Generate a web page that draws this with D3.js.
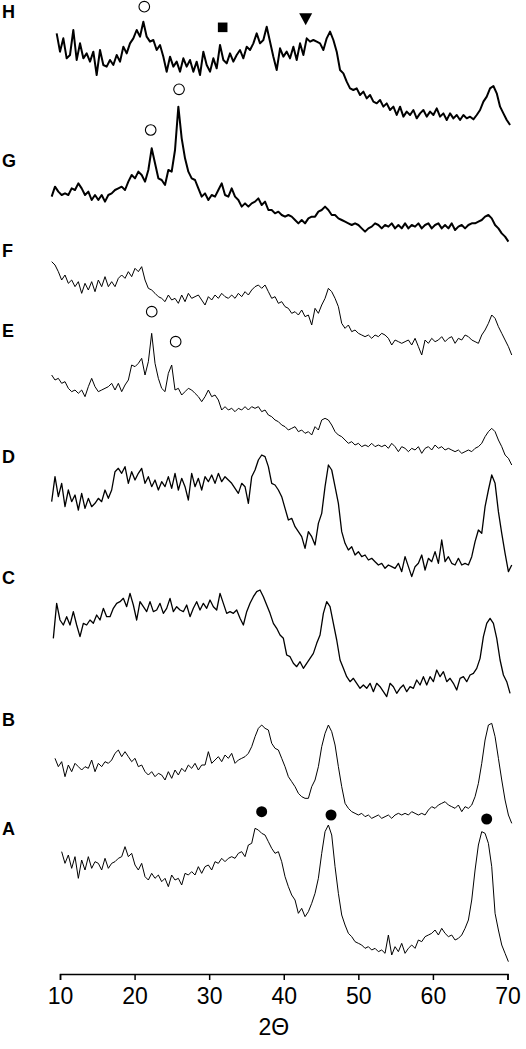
<!DOCTYPE html>
<html>
<head>
<meta charset="utf-8">
<script src="https://cdn.jsdelivr.net/npm/d3@7"></script>
<style>
body { margin: 0; background: #fff; }
</style>
</head>
<body>
<div id="wrapper"></div>
<script>
// sample names, top to bottom
var names = ["H", "G", "F", "E", "D", "C", "B", "A"];
// first 2theta of each scan and the step between points
var starts = [9.553, 8.883, 8.883, 8.883, 8.883, 9.106, 9.330, 10.223];
var step = 0.447;
// vertical offsets of the stacked scans (a.u.)
var offsets = [2525, 2175, 1845, 1525, 1185, 815, 425, 15];
// where the letters sit (a.u.)
var labelPos = [2890, 2442, 2172, 1932, 1554, 1191, 765, 438];
var lineWidths = [2, 2, 1, 1, 1.3, 1.3, 1, 1];

var scanH = [300,245,285,225,235,310,220,270,225,240,215,245,175,250,205,200,220,205,235,215,260,240,270,285,310,290,335,290,275,280,250,265,230,185,230,200,215,185,225,200,220,185,215,175,245,205,185,225,195,265,220,210,240,215,235,250,225,260,250,270,300,270,280,320,275,230,190,255,230,245,225,260,220,270,235,285,275,280,275,270,250,285,305,280,245,190,180,155,135,130,135,115,125,105,115,95,90,100,80,90,70,80,55,80,50,65,55,70,45,60,70,50,65,55,75,50,60,40,60,45,55,40,55,45,50,42,55,70,95,110,135,142,120,80,60,40,25];
var scanG = [160,190,175,165,170,165,185,180,200,185,165,175,150,165,150,165,145,165,170,180,185,190,180,205,225,215,235,225,205,240,305,260,215,210,195,240,235,300,430,335,275,235,215,210,185,160,170,150,165,160,180,200,165,160,185,160,150,130,140,130,140,145,155,135,145,120,120,110,115,105,100,105,100,90,80,90,80,95,100,100,115,120,130,120,105,105,95,90,85,80,75,80,75,65,55,65,70,80,75,65,75,70,80,65,75,65,80,65,75,70,80,65,75,80,65,75,80,65,75,65,80,60,70,75,65,75,80,80,85,90,100,105,95,75,65,50,40,25];
var scanF = [295,285,265,240,255,230,240,220,235,200,230,210,235,205,240,220,250,220,235,220,245,255,245,265,250,275,265,280,240,215,210,200,190,185,175,195,180,185,170,195,175,200,185,190,195,180,165,190,180,195,185,200,190,185,195,185,200,190,205,195,210,220,225,215,225,205,185,190,170,175,160,155,140,145,135,150,130,135,105,155,140,165,185,215,205,185,160,110,95,105,85,90,80,75,70,75,65,75,70,80,75,65,45,60,55,50,55,60,45,65,40,15,60,50,65,55,60,70,55,65,70,50,65,60,75,70,60,55,50,75,90,110,135,125,100,80,60,40,15];
var scanE = [275,260,265,250,255,235,225,230,220,230,210,240,265,240,225,230,235,240,250,230,250,225,245,260,305,300,310,325,275,315,400,310,265,235,225,280,305,230,235,215,225,235,230,220,210,195,210,230,210,215,200,170,180,170,175,165,175,170,180,170,180,175,180,165,170,155,150,140,135,125,120,110,115,120,105,110,100,105,95,120,110,140,145,140,125,105,95,90,80,70,75,65,70,60,65,60,70,60,65,60,65,55,70,60,45,60,55,45,55,50,60,40,55,60,50,65,55,60,50,55,50,45,50,40,45,50,45,55,60,70,90,105,115,105,80,60,35,25,5];
var scanD = [235,310,250,290,220,270,235,255,210,260,215,245,220,230,245,235,270,245,270,325,335,320,340,290,325,300,320,335,290,310,280,300,270,295,280,310,275,320,270,305,280,240,320,280,305,270,310,295,315,290,320,295,310,300,290,275,260,290,280,230,310,330,360,375,370,340,290,285,270,250,215,180,185,160,145,130,95,145,130,105,170,200,280,345,330,280,230,145,110,90,100,75,85,70,75,60,65,55,45,50,35,45,40,35,50,25,70,40,10,40,50,75,30,65,55,85,50,120,55,70,50,45,65,45,50,45,70,115,150,140,220,270,315,290,205,140,80,25,45];
var scanC = [195,300,250,235,260,235,275,235,200,240,235,250,240,265,250,285,260,260,285,300,305,315,290,330,295,250,305,290,275,305,275,280,300,270,285,315,275,290,280,275,295,260,285,305,280,300,285,310,290,280,330,300,270,275,270,280,255,235,275,300,320,335,340,320,295,270,240,225,205,195,145,140,120,110,125,105,120,135,150,180,205,270,305,290,240,190,130,105,80,65,75,60,45,55,45,60,35,60,50,35,20,60,50,30,45,55,35,50,45,70,55,80,55,80,65,100,80,95,65,75,60,40,75,80,65,85,90,105,135,200,240,255,240,195,130,85,65,30];
var scanB = [225,200,215,170,205,185,210,200,190,200,195,220,185,210,200,215,210,220,240,250,230,245,230,215,225,200,205,185,175,185,170,180,175,160,185,165,190,175,195,185,205,195,210,190,205,205,245,210,220,230,215,235,225,240,210,220,225,230,240,260,290,315,325,315,310,270,255,250,225,200,170,155,140,120,110,105,105,140,160,200,260,300,325,305,265,200,140,90,75,65,60,55,60,50,55,45,50,55,45,50,55,45,55,60,55,60,55,65,60,55,60,55,70,80,75,85,90,95,85,80,75,85,65,80,75,85,110,150,210,280,325,330,290,225,160,100,55,30];
var scanA = [355,320,345,305,340,275,330,300,340,305,325,320,300,335,305,320,325,335,340,370,340,350,315,300,320,280,270,290,275,285,265,275,250,285,270,275,255,290,285,295,285,310,290,310,315,300,325,320,335,325,335,340,335,350,355,340,375,380,425,420,410,405,385,365,350,355,325,280,250,225,210,170,185,160,175,200,230,275,350,415,435,405,310,230,165,135,110,100,85,80,75,65,70,60,65,55,60,50,105,45,70,55,80,50,65,75,65,90,85,100,105,110,120,105,125,110,100,105,90,95,105,125,150,210,300,375,415,410,380,310,170,120,75,50,25];
var scans = [scanH, scanG, scanF, scanE, scanD, scanC, scanB, scanA];

// peak markers: 2theta, height (a.u.), symbol
var markerX = [21.30, 31.81, 42.94, 25.96, 22.16, 22.30, 25.51, 37.04, 46.34, 67.21];
var markerY = [2905, 2843, 2867, 2657, 2535, 1990, 1900, 490, 480, 468];
var markerType = ["open", "square", "triangle", "open", "open", "open", "open", "dot", "dot", "dot"];

var ticks = [10, 20, 30, 40, 50, 60, 70];

var width = 526, height = 1049;
var svg = d3.select('#wrapper')
            .append('svg')
            .attr('width', width)
            .attr('height', height)
            .style('font-family', 'Liberation Sans, Arial, sans-serif');

var x = d3.scaleLinear().domain([10, 70]).range([60, 507.5]);
var y = d3.scaleLinear().domain([0, 2925]).range([975, 0]);

// scans
scans.forEach(function(vals, k) {
    var line = d3.line()
        .x(function(d, i) { return x(starts[k] + i * step); })
        .y(function(d) { return y(offsets[k] + d); });
    svg.append('path')
       .datum(vals)
       .attr('d', line)
       .attr('fill', 'none')
       .attr('stroke', '#000')
       .attr('stroke-width', lineWidths[k])
       .attr('stroke-linejoin', 'round');
});

// letters
svg.selectAll('text.lbl')
   .data(names)
   .enter()
   .append('text')
   .attr('class', 'lbl')
   .attr('x', 2)
   .attr('y', function(d, i) { return y(labelPos[i]); })
   .attr('dominant-baseline', 'central')
   .style('font-size', '18px')
   .style('font-weight', 'bold')
   .text(function(d) { return d; });

// markers
markerX.forEach(function(mx, i) {
    var cx = x(mx), cy = y(markerY[i]), t = markerType[i];
    if (t === 'open') {
        svg.append('circle').attr('cx', cx).attr('cy', cy).attr('r', 5.3)
           .attr('fill', '#fff').attr('stroke', '#000').attr('stroke-width', 1.1);
    } else if (t === 'dot') {
        svg.append('circle').attr('cx', cx).attr('cy', cy).attr('r', 5.5).attr('fill', '#000');
    } else if (t === 'square') {
        svg.append('rect').attr('x', cx - 4.8).attr('y', cy - 4.8)
           .attr('width', 9.6).attr('height', 9.6).attr('fill', '#000');
    } else {
        svg.append('path')
           .attr('d', 'M' + (cx - 6.5) + ',' + (cy - 6) + 'L' + (cx + 6.5) + ',' + (cy - 6) + 'L' + cx + ',' + (cy + 6) + 'Z')
           .attr('fill', '#000');
    }
});

// x axis
var axis = svg.append('g')
    .attr('transform', 'translate(0,974)')
    .call(d3.axisBottom(x).tickValues(ticks).tickSize(6).tickPadding(8));
axis.select('.domain').attr('stroke', '#000').attr('stroke-width', 1.5);
axis.selectAll('.tick line').attr('stroke', '#000').attr('stroke-width', 1.5);
axis.selectAll('.tick text')
    .attr('fill', '#000')
    .style('font-size', '23px')
    .style('font-family', 'Liberation Sans, Arial, sans-serif');

svg.append('text')
   .attr('x', x(40) - 10)
   .attr('y', 1035)
   .attr('text-anchor', 'middle')
   .style('font-size', '23px')
   .text('2Θ');
</script>
</body>
</html>
